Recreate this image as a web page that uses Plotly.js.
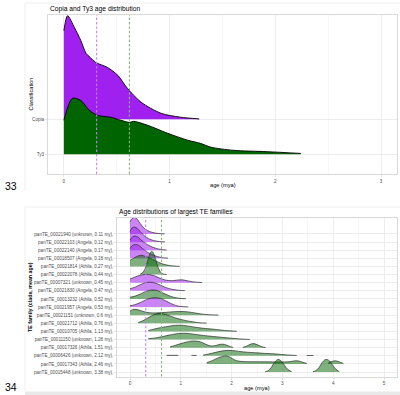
<!DOCTYPE html>
<html>
<head>
<meta charset="utf-8">
<script src="https://cdn.plot.ly/plotly-3.0.1.min.js"></script>
<style>
  html, body { margin: 0; padding: 0; background: #ffffff; }
  #chart { width: 400px; height: 395px; }
</style>
</head>
<body>
<div id="chart"></div>
<script>
// ---------- Panel 33: Copia vs Ty3 age distributions ----------
const classNames = ['Ty3', 'Copia'];
const copiaAge = [0, 0.035, 0.1, 0.16, 0.21, 0.25, 0.3, 0.41, 0.51, 0.6, 0.73, 0.92, 1.1, 1.28];
const copiaDensity = [2.54, 2.97, 2.63, 2.26, 1.89, 1.77, 1.63, 1.49, 1.26, 0.89, 0.49, 0.17, 0.06, 0.01];
const ty3Age = [0, 0.08, 0.16, 0.24, 0.32, 0.44, 0.54, 0.62, 0.66, 0.79, 0.98, 1.17, 1.29, 1.39, 1.6, 1.92, 2.24];
const ty3Density = [0.97, 1.6, 1.54, 1.26, 1.11, 1.06, 0.97, 0.91, 0.94, 0.83, 0.6, 0.4, 0.31, 0.2, 0.11, 0.07, 0.02];
const meanAgeCopia = 0.31;
const meanAgeTy3 = 0.62;

// ---------- Panel 34: largest TE families ----------
const familyIds = ['00021940', '00022103', '00022140', '00018507', '00021814', '00022078',
  '00007321', '00021830', '00013232', '00021957', '00021151', '00021712', '00010705',
  '00011150', '00017326', '00006426', '00017343', '00015448'];
const familyClades = ['unknown', 'Angela', 'Angela', 'Angela', 'Athila', 'Athila', 'unknown',
  'Angela', 'Athila', 'Angela', 'unknown', 'Athila', 'Athila', 'unknown', 'Athila', 'unknown',
  'Athila', 'unknown'];
const familyMeanAge = [0.11, 0.12, 0.17, 0.18, 0.27, 0.44, 0.45, 0.47, 0.52, 0.53, 0.6, 0.76,
  1.13, 1.28, 1.51, 2.12, 2.46, 3.38];
const familySuperfamily = ['Copia', 'Copia', 'Copia', 'Copia', 'Ty3', 'Ty3', 'Copia', 'Copia',
  'Ty3', 'Copia', 'Ty3', 'Ty3', 'Ty3', 'Ty3', 'Ty3', 'Ty3', 'Ty3', 'Ty3'];
// age grid (mya) and scaled density per family, null marks a break in the ridge
const familyAges = [
  [0, 0.04, 0.08, 0.13, 0.2, 0.27, 0.35, 0.45, 0.56, 0.68],
  [0, 0.04, 0.09, 0.14, 0.2, 0.28, 0.36, 0.46, 0.58, 0.69],
  [0, 0.05, 0.1, 0.16, 0.22, 0.3, 0.4, 0.5, 0.62, 0.72],
  [0, 0.05, 0.11, 0.17, 0.24, 0.32, 0.42, 0.52, 0.64, 0.75],
  [0, 0.08, 0.16, 0.22, 0.3, 0.4, 0.5, 0.62, 0.75, 0.88, 0.98],
  [0.2, 0.25, 0.3, 0.35, 0.4, 0.43, 0.46, 0.5, 0.55, 0.6, 0.65, 0.72],
  [0, 0.1, 0.2, 0.3, 0.38, 0.48, 0.58, 0.7, 0.82, 0.95, 1.03, 1.12, 1.25, 1.42],
  [0, 0.1, 0.2, 0.3, 0.4, 0.5, 0.6, 0.7, 0.82, 0.95, 1.08],
  [0, 0.1, 0.2, 0.3, 0.4, 0.47, 0.55, 0.65, 0.75, 0.85, 0.97, 1.1],
  [0, 0.1, 0.2, 0.3, 0.4, 0.5, 0.6, 0.7, 0.8, 0.9, 1.0, 1.15],
  [0, 0.05, 0.1, 0.18, 0.28, 0.38, 0.5, 0.65, 0.8, 0.95, 1.1, 1.25, 1.4, 1.55, 1.74],
  [0.16, 0.25, 0.35, 0.45, 0.55, 0.62, 0.7, 0.8, 0.9, 1.0, 1.1, 1.2, 1.35, 1.51],
  [0.36, 0.45, 0.55, 0.65, 0.75, 0.85, 0.95, 1.05, 1.15, 1.3, 1.45, 1.6, 1.75, 1.9, 2.1],
  [0.36, 0.5, 0.65, 0.8, 0.95, 1.05, 1.15, 1.3, 1.45, 1.6, 1.8, 2.0, 2.2, 2.36],
  [0.79, 0.9, 1.0, 1.1, 1.2, 1.28, 1.38, 1.48, 1.58, 1.68, 1.78, 1.86, 1.95, 2.03, null,
   2.22, 2.3, 2.38, 2.44, 2.52, 2.6, 2.67],
  [0.72, 0.84, 0.95, null, 1.21, 1.31, null, 1.44, 1.55, 1.67, 1.8, 1.94, 2.08, 2.2, 2.35,
   2.5, 2.65, 2.8, 2.95, 3.1, 3.28, null, 3.48, 3.61],
  [1.51, 1.62, 1.72, 1.82, 1.9, 1.98, 2.07, 2.2, 2.4, 2.6, 2.8, 3.0, 3.15, 3.25, 3.32, 3.4,
   3.48, null, 3.9, 3.97, 4.05, 4.12, 4.2],
  [2.66, 2.72, 2.78, 2.84, 2.9, 2.93, 2.98, 3.04, 3.1, 3.18, null,
   3.6, 3.66, 3.72, 3.78, 3.84, 3.88, 3.93, 3.99, 4.05, 4.12]
];
const familyDensity = [
  [1.45, 1.9, 2.05, 1.9, 1.3, 0.75, 0.4, 0.17, 0.06, 0.02],
  [1.3, 1.75, 1.85, 1.7, 1.3, 0.8, 0.45, 0.2, 0.07, 0.02],
  [1.25, 1.65, 1.75, 1.6, 1.25, 0.85, 0.5, 0.25, 0.08, 0.02],
  [1.2, 1.6, 1.72, 1.6, 1.25, 0.85, 0.5, 0.25, 0.08, 0.02],
  [0.75, 1.05, 1.3, 1.37, 1.25, 1.0, 0.7, 0.35, 0.15, 0.05, 0.01],
  [0.05, 0.23, 0.77, 1.74, 2.67, 2.87, 2.67, 1.96, 0.93, 0.3, 0.07, 0.01],
  [0.45, 0.7, 0.92, 1.02, 1.0, 0.85, 0.58, 0.32, 0.25, 0.33, 0.35, 0.25, 0.1, 0.02],
  [0.25, 0.45, 0.75, 1.0, 1.07, 0.95, 0.7, 0.42, 0.2, 0.07, 0.02],
  [0.2, 0.35, 0.6, 0.9, 1.08, 1.1, 1.0, 0.72, 0.45, 0.22, 0.08, 0.02],
  [0.15, 0.3, 0.55, 0.85, 1.08, 1.15, 1.05, 0.78, 0.45, 0.2, 0.07, 0.02],
  [0.5, 0.68, 0.72, 0.62, 0.42, 0.3, 0.28, 0.32, 0.4, 0.45, 0.43, 0.3, 0.15, 0.06, 0.01],
  [0.08, 0.3, 0.65, 1.0, 1.2, 1.22, 1.1, 0.88, 0.65, 0.48, 0.33, 0.22, 0.08, 0.02],
  [0.12, 0.25, 0.4, 0.52, 0.62, 0.72, 0.76, 0.74, 0.65, 0.5, 0.38, 0.3, 0.2, 0.1, 0.02],
  [0.1, 0.2, 0.38, 0.58, 0.74, 0.77, 0.74, 0.62, 0.5, 0.4, 0.28, 0.16, 0.06, 0.01],
  [0.1, 0.3, 0.5, 0.68, 0.8, 0.82, 0.72, 0.45, 0.22, 0.25, 0.42, 0.4, 0.18, 0.03, null,
   0.03, 0.2, 0.45, 0.5, 0.32, 0.1, 0.02],
  [0.05, 0.06, 0.05, null, 0.05, 0.05, null, 0.08, 0.22, 0.4, 0.58, 0.67, 0.6, 0.5, 0.42,
   0.36, 0.3, 0.25, 0.18, 0.1, 0.04, null, 0.04, 0.04],
  [0.15, 0.4, 0.7, 0.92, 0.98, 0.8, 0.45, 0.3, 0.27, 0.26, 0.25, 0.24, 0.28, 0.38, 0.36, 0.2,
   0.05, null, 0.1, 0.3, 0.38, 0.25, 0.05],
  [0.03, 0.17, 0.55, 1.15, 1.52, 1.55, 1.35, 0.85, 0.35, 0.05, null,
   0.03, 0.17, 0.55, 1.15, 1.52, 1.55, 1.35, 0.85, 0.35, 0.05]
];

const FONT = '"Liberation Sans", Arial, Helvetica, sans-serif';
const W = 400, H = 395;
const px = v => v / W;
const py = v => 1 - v / H;

const solidFill = { Copia: '#A020F0', Ty3: '#006400' };
const ridgeFill = { Copia: 'rgba(160,32,240,0.55)', Ty3: 'rgba(0,100,0,0.5)' };
const meanLineColor = { Copia: '#c082f3', Ty3: '#80b580' };

const traces = [];

// one filled ridge: invisible baseline, then the density filled down to it
function addRidge(xs, hs, base, fill, lineColor, lineWidth, xa, ya) {
  let seg = [];
  const flush = () => {
    if (seg.length > 1) {
      const sx = seg.map(p => p[0]);
      traces.push({
        type: 'scatter', mode: 'lines', x: [sx[0], sx[sx.length - 1]], y: [base, base],
        line: { width: 0, color: 'rgba(0,0,0,0)' }, hoverinfo: 'skip', showlegend: false,
        xaxis: xa, yaxis: ya
      });
      traces.push({
        type: 'scatter', mode: 'lines', x: sx, y: seg.map(p => base + p[1]),
        fill: 'tonexty', fillcolor: fill,
        line: { color: lineColor, width: lineWidth, shape: 'spline', smoothing: 0.8 },
        hoverinfo: 'skip', showlegend: false, xaxis: xa, yaxis: ya
      });
    }
    seg = [];
  };
  xs.forEach((x, k) => {
    if (x === null || hs[k] === null) { flush(); } else { seg.push([x, hs[k]]); }
  });
  flush();
}

// Copia ridge sits on row 2, Ty3 on row 1 (drawn last, in front)
addRidge(copiaAge, copiaDensity, 2, solidFill.Copia, '#000000', 0.9, 'x', 'y');
addRidge(ty3Age, ty3Density, 1, solidFill.Ty3, '#000000', 0.9, 'x', 'y');

// families: top row first so lower ridges overlap the ones above
const nFam = familyIds.length;
for (let i = 0; i < nFam; i++) {
  const row = nFam - 1 - i;
  addRidge(familyAges[i], familyDensity[i], row, ridgeFill[familySuperfamily[i]],
    '#2b2b2b', 0.7, 'x2', 'y2');
}

const familyLabels = familyIds.map((id, i) =>
  'panTE_' + id + ' (' + familyClades[i] + ', ' + familyMeanAge[i] + ' my),');

const gridMajor = '#ebebeb';
const borderColor = '#d9d9d9';
const tickFont = { family: FONT, size: 4.6, color: '#4d4d4d' };

function xAxis(domain, range, tickvals, anchor) {
  return {
    domain: domain, range: range, anchor: anchor,
    tickmode: 'array', tickvals: tickvals, ticktext: tickvals.map(String),
    showgrid: true, gridcolor: gridMajor, gridwidth: 0.9,
    minor: { dtick: 0.5, tick0: 0, showgrid: true, gridcolor: '#f1f1f1', gridwidth: 0.6, ticks: '' },
    zeroline: false, showline: true, mirror: true, linecolor: borderColor, linewidth: 1,
    ticks: 'outside', ticklen: 2, tickcolor: borderColor, tickwidth: 0.8,
    tickfont: tickFont, ticklabelstandoff: 0, fixedrange: true
  };
}
function yAxis(domain, range, tickvals, ticktext, anchor) {
  return {
    domain: domain, range: range, anchor: anchor,
    tickmode: 'array', tickvals: tickvals, ticktext: ticktext,
    showgrid: true, gridcolor: gridMajor, gridwidth: 0.9,
    zeroline: false, showline: true, mirror: true, linecolor: borderColor, linewidth: 1,
    ticks: 'outside', ticklen: 2, tickcolor: borderColor, tickwidth: 0.8,
    tickfont: tickFont, ticklabelstandoff: 0.5, fixedrange: true
  };
}

const rowVals = familyIds.map((_, i) => nFam - 1 - i);

const meanShapes = [];
[['x', 'y'], ['x2', 'y2']].forEach(([xa, ya]) => {
  meanShapes.push({ type: 'line', xref: xa, yref: ya + ' domain', x0: meanAgeCopia, x1: meanAgeCopia,
    y0: 0, y1: 1, layer: 'above', line: { color: meanLineColor.Copia, width: 1.1, dash: '2.4px,2px' } });
  meanShapes.push({ type: 'line', xref: xa, yref: ya + ' domain', x0: meanAgeTy3, x1: meanAgeTy3,
    y0: 0, y1: 1, layer: 'above', line: { color: meanLineColor.Ty3, width: 1.1, dash: '2.4px,2px' } });
});

// light page frame around each figure
const frameShapes = [
  { type: 'line', xref: 'paper', yref: 'paper', x0: px(25), x1: 1, y0: py(3), y1: py(3), line: { color: '#efefef', width: 1 } },
  { type: 'line', xref: 'paper', yref: 'paper', x0: px(25), x1: px(25), y0: py(3), y1: py(191), line: { color: '#efefef', width: 1 } },
  { type: 'line', xref: 'paper', yref: 'paper', x0: px(25), x1: 1, y0: py(207), y1: py(207), line: { color: '#efefef', width: 1 } },
  { type: 'line', xref: 'paper', yref: 'paper', x0: px(25), x1: px(25), y0: py(207), y1: py(391), line: { color: '#efefef', width: 1 } },
  { type: 'rect', xref: 'paper', yref: 'paper', x0: px(25), x1: 1, y0: 0, y1: py(391.5), line: { width: 0 }, fillcolor: '#e9e9e9', layer: 'below' }
];

function label(text, x, y, size, opts) {
  return Object.assign({
    xref: 'paper', yref: 'paper', x: px(x), y: py(y), text: text, showarrow: false,
    xanchor: 'left', yanchor: 'middle', font: { family: FONT, size: size, color: '#000000' }
  }, opts || {});
}

const annotations = [
  label('Copia and Ty3 age distribution', 48, 9, 6.7),
  label('Age distributions of largest TE families', 117.3, 212, 6.7),
  label('age (mya)', 222.5, 185, 5.7, { xanchor: 'center' }),
  label('age (mya)', 257, 388, 5.7, { xanchor: 'center' }),
  label('Classification', 31, 94.5, 5.6, { xanchor: 'center', textangle: -90 }),
  label('<b>TE family (clade, mean age)</b>', 30, 297, 5.3, { xanchor: 'center', textangle: -90 }),
  label('33', 3, 185.5, 10.5),
  label('34', 3, 386.5, 10.5)
];

const layout = {
  width: W, height: H,
  margin: { l: 0, r: 0, t: 0, b: 0, pad: 0 },
  paper_bgcolor: '#ffffff', plot_bgcolor: '#ffffff',
  font: { family: FONT },
  showlegend: false,
  xaxis: xAxis([px(48), px(397)], [-0.15, 3.15], [0, 1, 2, 3], 'y'),
  yaxis: yAxis([py(174), py(15)], [0.43, 4.99], [1, 2], classNames, 'x'),
  xaxis2: xAxis([px(117.3), px(396.7)], [-0.25, 5.25], [0, 1, 2, 3, 4, 5], 'y2'),
  yaxis2: yAxis([py(376.5), py(217.5)], [-0.55, 19.03], rowVals, familyLabels, 'x2'),
  shapes: frameShapes.concat(meanShapes),
  annotations: annotations
};

Plotly.newPlot('chart', traces, layout, { staticPlot: true, displayModeBar: false });
</script>
</body>
</html>
